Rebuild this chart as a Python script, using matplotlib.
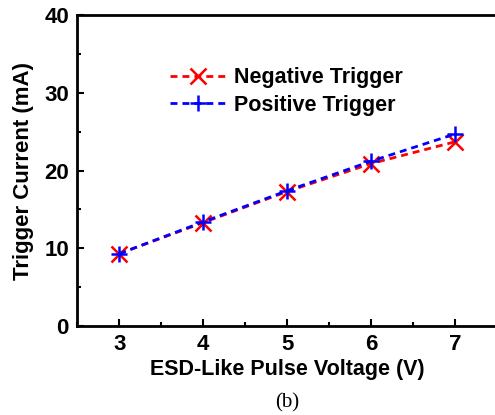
import matplotlib
matplotlib.use("Agg")
import matplotlib.pyplot as plt
from matplotlib.ticker import MultipleLocator

voltage = [3, 4, 5, 6, 7]
negative_trigger = [9.3, 13.3, 17.3, 20.9, 23.7]
positive_trigger = [9.3, 13.4, 17.4, 21.2, 24.7]

plt.rcParams['font.family'] = ['Liberation Sans', 'DejaVu Sans']
plt.rcParams['font.weight'] = 'bold'

fig = plt.figure(figsize=(4.95, 4.15), dpi=100)
ax = fig.add_axes([0.156, 0.2145, 0.848, 0.749])

ax.plot(voltage, negative_trigger, 'r--', marker='x', markersize=11, markeredgewidth=1.8,
        linewidth=2, dashes=(2.5, 1.8), label='Negative Trigger')
ax.plot(voltage, positive_trigger, 'b--', marker='+', markersize=12, markeredgewidth=1.8,
        linewidth=2, dashes=(2.5, 1.8), label='Positive Trigger')

ax.set_xlim(2.5, 7.5)
ax.set_ylim(0, 40)
ax.xaxis.set_major_locator(MultipleLocator(1))
ax.xaxis.set_minor_locator(MultipleLocator(0.5))
ax.yaxis.set_major_locator(MultipleLocator(10))
ax.yaxis.set_minor_locator(MultipleLocator(5))
ax.tick_params(which='both', direction='in', width=1.5, labelsize=16)
ax.tick_params(which='major', length=5, pad=6)
ax.tick_params(which='minor', length=3)
for s in ax.spines.values():
    s.set_linewidth(2)

ax.set_xlabel('ESD-Like Pulse Voltage (V)', fontsize=15.5, fontweight='bold', labelpad=3)
ax.set_ylabel('Trigger Current (mA)', fontsize=16, fontweight='bold', labelpad=7)

ax.legend(loc='upper left', bbox_to_anchor=(0.2, 0.86), frameon=False, fontsize=15.5,
          handlelength=2.6, handletextpad=0.4, labelspacing=0.3, borderaxespad=0)

fig.text(0.58, 0.006, '(b)', family='Liberation Serif', fontweight='normal', fontsize=15,
         ha='center', va='bottom')

fig.savefig('out.png', dpi=100)
